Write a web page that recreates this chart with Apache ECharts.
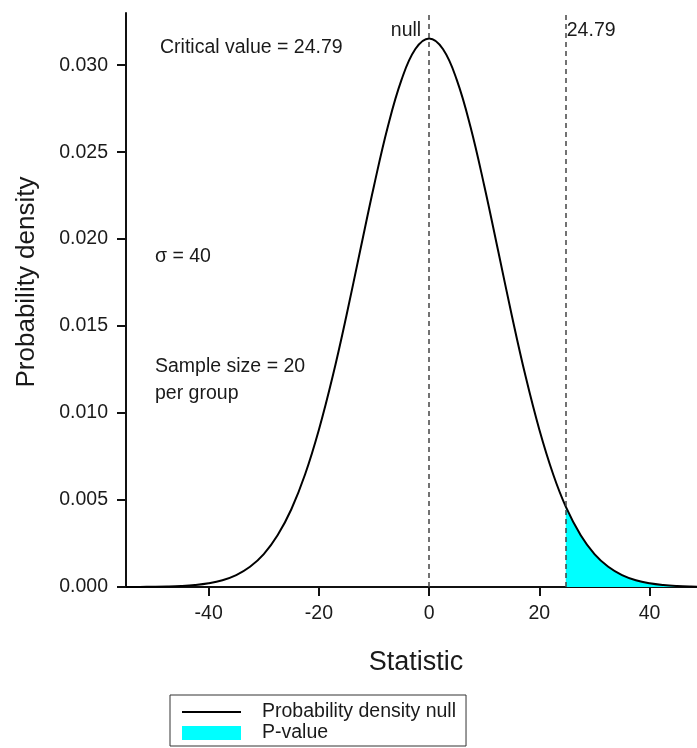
<!DOCTYPE html>
<html>
<head>
<meta charset="utf-8">
<script src="https://cdn.jsdelivr.net/npm/echarts@6/dist/echarts.min.js"></script>
<style>html,body{margin:0;padding:0;background:#fff;}#c{width:697px;height:748px;}</style>
</head>
<body>
<div id="c"></div>
<script>
// Values
const statisticX = [-55, -52.5, -50, -47.5, -45, -42.5, -40, -37.5, -35, -32.5, -30, -27.5, -25, -22.5, -20, -17.5, -15, -12.5, -10, -7.5, -5, -2.5, 0, 2.5, 5, 7.5, 10, 12.5, 15, 17.5, 20, 22.5, 24.79, 27.5, 30, 32.5, 35, 37.5, 40, 42.5, 45, 47.5, 50];
const densityNull = [0.0000025, 0.0000057, 0.0000128, 0.0000273, 0.0000563, 0.000112, 0.000213, 0.000389, 0.000686, 0.00116, 0.00189, 0.00297, 0.00447, 0.00648, 0.00904, 0.01211, 0.01561, 0.01936, 0.02307, 0.02646, 0.02917, 0.03093, 0.03154, 0.03093, 0.02917, 0.02646, 0.02307, 0.01936, 0.01561, 0.01211, 0.00904, 0.00648, 0.00462, 0.00297, 0.00189, 0.00116, 0.000686, 0.000389, 0.000213, 0.000112, 0.0000563, 0.0000273, 0.0000128];
const pValueX = [24.79, 27.5, 30, 32.5, 35, 37.5, 40, 42.5, 45, 47.5, 50];
const pValueDensity = [0.00462, 0.00297, 0.00189, 0.00116, 0.000686, 0.000389, 0.000213, 0.000112, 0.0000563, 0.0000273, 0.0000128];
const xTicks = [-40, -20, 0, 20, 40];
const yTicks = [0, 0.005, 0.010, 0.015, 0.020, 0.025, 0.030];
const nullValue = 0;
const criticalValue = 24.79;
const seriesNames = ['Probability density null', 'P-value'];

const FONT = 'Liberation Sans, Arial, Helvetica, sans-serif';
const TXT = '#1a1a1a';
const FS = 19.5;

const chart = echarts.init(document.getElementById('c'));
const lineData = statisticX.map((x, i) => [x, densityNull[i]]);
const areaData = pValueX.map((x, i) => [x, pValueDensity[i]]);

chart.setOption({
  animation: false,
  backgroundColor: '#fff',
  grid: { left: 126, right: 0, top: 13, bottom: 161, containLabel: false },
  xAxis: {
    type: 'value', min: -55, max: 48.6,
    name: 'Statistic', nameLocation: 'middle', nameGap: 62,
    nameTextStyle: { fontFamily: FONT, fontSize: 27, color: TXT, padding: [0, 0, 0, 9] },
    axisLine: { show: true, onZero: false, lineStyle: { color: '#111', width: 2 } },
    axisTick: { show: true, customValues: xTicks, length: 9, inside: false, lineStyle: { color: '#111', width: 2 } },
    axisLabel: { customValues: xTicks, margin: 17, fontFamily: FONT, fontSize: FS, color: TXT },
    splitLine: { show: false }
  },
  yAxis: {
    type: 'value', min: 0, max: 0.033,
    name: 'Probability density', nameLocation: 'middle', nameGap: 86,
    nameTextStyle: { fontFamily: FONT, fontSize: 26, color: TXT, padding: [0, 0, 0, 36] },
    axisLine: { show: true, onZero: false, lineStyle: { color: '#111', width: 2 } },
    axisTick: { show: true, customValues: yTicks, length: 9, lineStyle: { color: '#111', width: 2 } },
    axisLabel: { customValues: yTicks, margin: 18, fontFamily: FONT, fontSize: FS, color: TXT,
      formatter: v => v.toFixed(3) },
    splitLine: { show: false }
  },
  legend: {
    orient: 'vertical', left: 170, top: 695,
    padding: [7, 10, 3, 12],
    borderColor: '#333', borderWidth: 1,
    itemWidth: 59, itemHeight: 14, itemGap: 1,
    textStyle: { fontFamily: FONT, fontSize: FS, color: TXT, padding: [0, 0, 0, 16] },
    data: [
      { name: seriesNames[0], icon: 'path://M0,0H59V2H0Z', itemStyle: { color: '#000', borderWidth: 0 } },
      { name: seriesNames[1], icon: 'rect', itemStyle: { color: '#00FFFF', borderWidth: 0 } }
    ]
  },
  graphic: [
    { type: 'text', x: 160, y: 48, style: { text: 'Critical value = 24.79', font: FS + 'px ' + FONT, fill: TXT, verticalAlign: 'middle' } },
    { type: 'text', x: 155, y: 257, style: { text: 'σ = 40', font: FS + 'px ' + FONT, fill: TXT, verticalAlign: 'middle' } },
    { type: 'text', x: 155, y: 367, style: { text: 'Sample size = 20', font: FS + 'px ' + FONT, fill: TXT, verticalAlign: 'middle' } },
    { type: 'text', x: 155, y: 394, style: { text: 'per group', font: FS + 'px ' + FONT, fill: TXT, verticalAlign: 'middle' } }
  ],
  series: [
    {
      name: seriesNames[1], type: 'line', data: areaData, smooth: 0.4, symbol: 'none',
      itemStyle: { color: '#00FFFF' },
      lineStyle: { width: 0 },
      areaStyle: { color: '#00FFFF', opacity: 1 },
      z: 1
    },
    {
      name: seriesNames[0], type: 'line', data: lineData, smooth: 0.4, symbol: 'none',
      itemStyle: { color: '#000' },
      lineStyle: { color: '#000', width: 2 },
      z: 3,
      markLine: {
        silent: true, symbol: 'none',
        lineStyle: { color: '#444', width: 1.5, type: [5, 4] },
        label: { show: false },
        data: [{ xAxis: nullValue }, { xAxis: criticalValue }]
      },
      markPoint: {
        symbol: 'circle', symbolSize: 0, silent: true,
        data: [
          { coord: [nullValue, 0.032], label: { show: true, position: 'left', distance: 8, formatter: 'null', fontFamily: FONT, fontSize: FS, color: TXT } },
          { coord: [criticalValue, 0.032], label: { show: true, position: 'right', distance: 1, formatter: '24.79', fontFamily: FONT, fontSize: FS, color: TXT } }
        ]
      }
    }
  ]
});
</script>
</body>
</html>
